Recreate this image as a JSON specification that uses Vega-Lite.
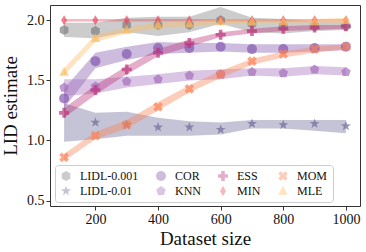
{
  "$schema": "https://vega.github.io/schema/vega-lite/v6.json",
  "width": 310,
  "height": 201,
  "autosize": {"type": "none"},
  "padding": {"left": 50, "top": 5, "right": 6, "bottom": 46},
  "background": "white",
  "config": {
    "view": {"stroke": "#333", "strokeWidth": 1},
    "axis": {
      "labelFont": "Liberation Serif", "labelFontSize": 14, "labelColor": "#111",
      "titleFont": "Liberation Serif", "titleFontSize": 19, "titleFontWeight": "normal", "titleColor": "#111",
      "tickColor": "#333", "tickSize": 4, "grid": false, "domain": false
    },
    "legend": {"labelFont": "Liberation Serif", "labelFontSize": 12, "labelColor": "#111"}
  },
  "data": {"values": [
    {"method": "LIDL-0.001", "n": 100, "mean": 1.92, "lo": 1.86, "hi": 1.98},
    {"method": "LIDL-0.001", "n": 200, "mean": 1.91, "lo": 1.85, "hi": 1.98},
    {"method": "LIDL-0.001", "n": 300, "mean": 1.96, "lo": 1.9, "hi": 2.02},
    {"method": "LIDL-0.001", "n": 400, "mean": 1.96, "lo": 1.87, "hi": 2.03},
    {"method": "LIDL-0.001", "n": 500, "mean": 1.96, "lo": 1.9, "hi": 2.03},
    {"method": "LIDL-0.001", "n": 600, "mean": 2.0, "lo": 1.97, "hi": 2.11},
    {"method": "LIDL-0.001", "n": 700, "mean": 1.97, "lo": 1.9, "hi": 2.02},
    {"method": "LIDL-0.001", "n": 800, "mean": 1.95, "lo": 1.89, "hi": 2.01},
    {"method": "LIDL-0.001", "n": 900, "mean": 1.95, "lo": 1.91, "hi": 1.99},
    {"method": "LIDL-0.001", "n": 1000, "mean": 1.95, "lo": 1.92, "hi": 1.99},
    {"method": "LIDL-0.01", "n": 100, "mean": null, "lo": 0.99, "hi": 1.31},
    {"method": "LIDL-0.01", "n": 200, "mean": 1.15, "lo": 1.01, "hi": 1.23},
    {"method": "LIDL-0.01", "n": 300, "mean": 1.13, "lo": 1.04, "hi": 1.24},
    {"method": "LIDL-0.01", "n": 400, "mean": 1.11, "lo": 1.04, "hi": 1.19},
    {"method": "LIDL-0.01", "n": 500, "mean": 1.11, "lo": 1.04, "hi": 1.16},
    {"method": "LIDL-0.01", "n": 600, "mean": 1.09, "lo": 1.05, "hi": 1.15},
    {"method": "LIDL-0.01", "n": 700, "mean": 1.14, "lo": 1.1, "hi": 1.17},
    {"method": "LIDL-0.01", "n": 800, "mean": 1.13, "lo": 1.1, "hi": 1.17},
    {"method": "LIDL-0.01", "n": 900, "mean": 1.14, "lo": 1.08, "hi": 1.17},
    {"method": "LIDL-0.01", "n": 1000, "mean": 1.12, "lo": 1.06, "hi": 1.17},
    {"method": "COR", "n": 100, "mean": 1.35, "lo": 1.27, "hi": 1.43},
    {"method": "COR", "n": 200, "mean": 1.66, "lo": 1.6, "hi": 1.73},
    {"method": "COR", "n": 300, "mean": 1.72, "lo": 1.67, "hi": 1.78},
    {"method": "COR", "n": 400, "mean": 1.77, "lo": 1.72, "hi": 1.82},
    {"method": "COR", "n": 500, "mean": 1.77, "lo": 1.73, "hi": 1.81},
    {"method": "COR", "n": 600, "mean": 1.78, "lo": 1.74, "hi": 1.81},
    {"method": "COR", "n": 700, "mean": 1.76, "lo": 1.73, "hi": 1.8},
    {"method": "COR", "n": 800, "mean": 1.76, "lo": 1.73, "hi": 1.8},
    {"method": "COR", "n": 900, "mean": 1.77, "lo": 1.74, "hi": 1.8},
    {"method": "COR", "n": 1000, "mean": 1.78, "lo": 1.75, "hi": 1.8},
    {"method": "KNN", "n": 100, "mean": 1.44, "lo": 1.37, "hi": 1.51},
    {"method": "KNN", "n": 200, "mean": 1.45, "lo": 1.39, "hi": 1.51},
    {"method": "KNN", "n": 300, "mean": 1.49, "lo": 1.44, "hi": 1.53},
    {"method": "KNN", "n": 400, "mean": 1.51, "lo": 1.47, "hi": 1.55},
    {"method": "KNN", "n": 500, "mean": 1.54, "lo": 1.5, "hi": 1.58},
    {"method": "KNN", "n": 600, "mean": 1.55, "lo": 1.51, "hi": 1.59},
    {"method": "KNN", "n": 700, "mean": 1.57, "lo": 1.54, "hi": 1.6},
    {"method": "KNN", "n": 800, "mean": 1.56, "lo": 1.53, "hi": 1.6},
    {"method": "KNN", "n": 900, "mean": 1.59, "lo": 1.55, "hi": 1.62},
    {"method": "KNN", "n": 1000, "mean": 1.57, "lo": 1.54, "hi": 1.61},
    {"method": "ESS", "n": 100, "mean": 1.23, "lo": 1.19, "hi": 1.27},
    {"method": "ESS", "n": 200, "mean": 1.42, "lo": 1.38, "hi": 1.46},
    {"method": "ESS", "n": 300, "mean": 1.59, "lo": 1.55, "hi": 1.62},
    {"method": "ESS", "n": 400, "mean": 1.73, "lo": 1.7, "hi": 1.76},
    {"method": "ESS", "n": 500, "mean": 1.81, "lo": 1.78, "hi": 1.84},
    {"method": "ESS", "n": 600, "mean": 1.88, "lo": 1.86, "hi": 1.9},
    {"method": "ESS", "n": 700, "mean": 1.91, "lo": 1.89, "hi": 1.93},
    {"method": "ESS", "n": 800, "mean": 1.93, "lo": 1.91, "hi": 1.95},
    {"method": "ESS", "n": 900, "mean": 1.94, "lo": 1.92, "hi": 1.96},
    {"method": "ESS", "n": 1000, "mean": 1.95, "lo": 1.93, "hi": 1.96},
    {"method": "MIN", "n": 100, "mean": 2.0, "lo": 1.99, "hi": 2.01},
    {"method": "MIN", "n": 200, "mean": 2.0, "lo": 1.99, "hi": 2.01},
    {"method": "MIN", "n": 300, "mean": 2.0, "lo": 1.99, "hi": 2.01},
    {"method": "MIN", "n": 400, "mean": 2.0, "lo": 1.99, "hi": 2.01},
    {"method": "MIN", "n": 500, "mean": 2.0, "lo": 1.99, "hi": 2.01},
    {"method": "MIN", "n": 600, "mean": 2.0, "lo": 1.99, "hi": 2.01},
    {"method": "MIN", "n": 700, "mean": 2.0, "lo": 1.99, "hi": 2.01},
    {"method": "MIN", "n": 800, "mean": 2.0, "lo": 1.99, "hi": 2.01},
    {"method": "MIN", "n": 900, "mean": 2.0, "lo": 1.99, "hi": 2.01},
    {"method": "MIN", "n": 1000, "mean": 2.0, "lo": 1.99, "hi": 2.01},
    {"method": "MOM", "n": 100, "mean": 0.86, "lo": 0.83, "hi": 0.89},
    {"method": "MOM", "n": 200, "mean": 1.04, "lo": 1.01, "hi": 1.07},
    {"method": "MOM", "n": 300, "mean": 1.13, "lo": 1.1, "hi": 1.17},
    {"method": "MOM", "n": 400, "mean": 1.28, "lo": 1.25, "hi": 1.32},
    {"method": "MOM", "n": 500, "mean": 1.43, "lo": 1.4, "hi": 1.46},
    {"method": "MOM", "n": 600, "mean": 1.55, "lo": 1.52, "hi": 1.58},
    {"method": "MOM", "n": 700, "mean": 1.66, "lo": 1.63, "hi": 1.68},
    {"method": "MOM", "n": 800, "mean": 1.72, "lo": 1.69, "hi": 1.74},
    {"method": "MOM", "n": 900, "mean": 1.76, "lo": 1.73, "hi": 1.78},
    {"method": "MOM", "n": 1000, "mean": 1.78, "lo": 1.76, "hi": 1.8},
    {"method": "MLE", "n": 100, "mean": 1.57, "lo": 1.54, "hi": 1.6},
    {"method": "MLE", "n": 200, "mean": 1.85, "lo": 1.82, "hi": 1.88},
    {"method": "MLE", "n": 300, "mean": 1.92, "lo": 1.89, "hi": 1.94},
    {"method": "MLE", "n": 400, "mean": 1.96, "lo": 1.94, "hi": 1.98},
    {"method": "MLE", "n": 500, "mean": 1.97, "lo": 1.95, "hi": 1.99},
    {"method": "MLE", "n": 600, "mean": 1.99, "lo": 1.97, "hi": 2.01},
    {"method": "MLE", "n": 700, "mean": 1.99, "lo": 1.98, "hi": 2.01},
    {"method": "MLE", "n": 800, "mean": 1.99, "lo": 1.98, "hi": 2.01},
    {"method": "MLE", "n": 900, "mean": 1.99, "lo": 1.98, "hi": 2.01},
    {"method": "MLE", "n": 1000, "mean": 2.0, "lo": 1.98, "hi": 2.02}
  ]},
  "resolve": {"legend": {"color": "shared", "shape": "shared"}},
  "layer": [
    {
      "mark": {"type": "area", "opacity": 0.4, "interpolate": "linear"},
      "encoding": {
        "x": {"field": "n", "type": "quantitative", "scale": {"domain": [55, 1045], "nice": false, "zero": false},
              "axis": {"values": [200, 400, 600, 800, 1000], "format": "d", "title": "Dataset size", "titlePadding": 3, "labelPadding": 2}},
        "y": {"field": "lo", "type": "quantitative", "scale": {"domain": [0.455, 2.127], "nice": false, "zero": false},
              "axis": {"values": [0.5, 1.0, 1.5, 2.0], "format": ".1f", "title": "LID estimate", "titlePadding": 6, "labelPadding": 2}},
        "y2": {"field": "hi"},
        "color": {"field": "method", "type": "nominal",
          "scale": {"domain": ["LIDL-0.001", "COR", "ESS", "MOM", "LIDL-0.01", "KNN", "MIN", "MLE"],
                    "range": ["#7f7f7f", "#8458b0", "#bc3377", "#fb8355", "#6e6999", "#a56fbc", "#ea4a60", "#febc60"]}}
      }
    },
    {
      "mark": {"type": "point", "filled": true, "opacity": 0.7, "size": 100, "strokeWidth": 0},
      "encoding": {
        "x": {"field": "n", "type": "quantitative"},
        "y": {"field": "mean", "type": "quantitative"},
        "color": {"field": "method", "type": "nominal",
          "legend": {"title": null, "orient": "none", "legendX": 5, "legendY": 160, "columns": 4, "direction": "horizontal",
                     "columnPadding": 16, "rowPadding": 3, "symbolOpacity": 0.45, "symbolSize": 100, "labelOffset": 8,
                     "padding": 5, "strokeColor": "#cccccc", "fillColor": "white", "cornerRadius": 3}},
        "shape": {"field": "method", "type": "nominal",
          "scale": {"domain": ["LIDL-0.001", "COR", "ESS", "MOM", "LIDL-0.01", "KNN", "MIN", "MLE"],
                    "range": [
                      "M0,-1L0.866,-0.5L0.866,0.5L0,1L-0.866,0.5L-0.866,-0.5Z",
                      "circle",
                      "M-0.36,-1L0.36,-1L0.36,-0.36L1,-0.36L1,0.36L0.36,0.36L0.36,1L-0.36,1L-0.36,0.36L-1,0.36L-1,-0.36L-0.36,-0.36Z",
                      "M0.45,-0.97L0.97,-0.45L0.52,0L0.97,0.45L0.45,0.97L0,0.52L-0.45,0.97L-0.97,0.45L-0.52,0L-0.97,-0.45L-0.45,-0.97L0,-0.52Z",
                      "M0,-1.05L0.25,-0.34L1.0,-0.33L0.4,0.13L0.62,0.85L0,0.42L-0.62,0.85L-0.4,0.13L-1.0,-0.33L-0.25,-0.34Z",
                      "M0,-1L0.951,-0.309L0.588,0.809L-0.588,0.809L-0.951,-0.309Z",
                      "M0,-1L0.6,0L0,1L-0.6,0Z",
                      "M0,-1L0.95,0.75L-0.95,0.75Z"
                    ]},
          "legend": {"title": null, "orient": "none", "legendX": 5, "legendY": 160, "columns": 4, "direction": "horizontal",
                     "columnPadding": 16, "rowPadding": 3, "symbolOpacity": 0.45, "symbolSize": 100, "labelOffset": 8,
                     "padding": 5, "strokeColor": "#cccccc", "fillColor": "white", "cornerRadius": 3}}
      }
    }
  ]
}
